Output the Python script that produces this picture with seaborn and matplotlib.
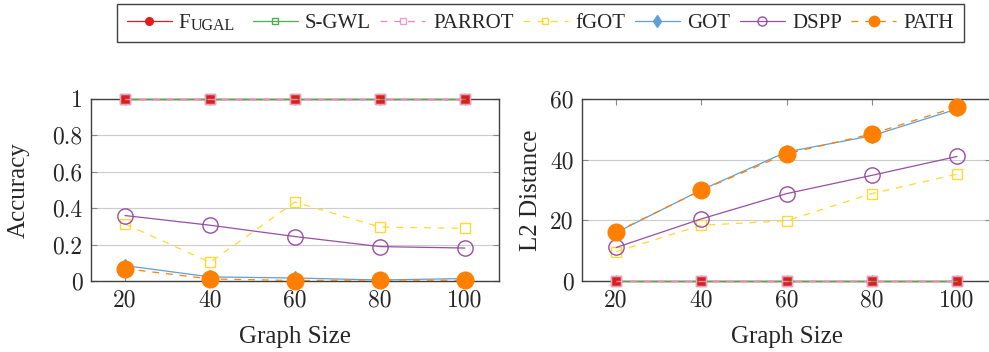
import numpy as np
import pandas as pd
import matplotlib
matplotlib.use("Agg")
import matplotlib.pyplot as plt
from matplotlib.lines import Line2D
import seaborn as sns

# data
sizes = [20, 40, 60, 80, 100]
methods = ["Fugal", "S-GWL", "PARROT", "fGOT", "GOT", "DSPP", "PATH"]

acc_fugal = [1.0, 1.0, 1.0, 1.0, 1.0]
acc_sgwl = [1.0, 1.0, 1.0, 1.0, 1.0]
acc_parrot = [1.0, 1.0, 1.0, 1.0, 1.0]
acc_fgot = [0.314, 0.104, 0.434, 0.297, 0.29]
acc_got = [0.086, 0.024, 0.018, 0.007, 0.015]
acc_dspp = [0.36, 0.307, 0.245, 0.19, 0.182]
acc_path = [0.069, 0.013, 0.004, 0.007, 0.005]

l2_fugal = [0, 0, 0, 0, 0]
l2_sgwl = [0, 0, 0, 0, 0]
l2_parrot = [0, 0, 0, 0, 0]
l2_fgot = [9.7, 18.4, 19.9, 28.8, 35.2]
l2_got = [16.0, 30.0, 42.5, 47.8, 56.6]
l2_dspp = [11.1, 20.5, 28.8, 34.8, 41.0]
l2_path = [16.2, 29.9, 41.9, 48.4, 57.3]

acc = [acc_fugal, acc_sgwl, acc_parrot, acc_fgot, acc_got, acc_dspp, acc_path]
l2 = [l2_fugal, l2_sgwl, l2_parrot, l2_fgot, l2_got, l2_dspp, l2_path]

dash = (0, (5.5, 5.5))
# styles (pgfplots-like)
styles = {
    "Fugal": dict(color="#e41a1c", ls="-", marker="s", ms=5.5, mfc="#e41a1c", mec="#e41a1c"),
    "S-GWL": dict(color="#4daf4a", ls="-", marker="s", ms=7, mfc="none", mec="#4daf4a"),
    "PARROT": dict(color="#f781bf", ls=dash, marker="s", ms=7, mfc="none", mec="#f29bc8"),
    "fGOT": dict(color="#ffd92f", ls=dash, marker="s", ms=7, mfc="none", mec="#ffd92f"),
    "GOT": dict(color="#5f9fd6", ls="-", marker="d", ms=7, mfc="#5f9fd6", mec="#5f9fd6"),
    "DSPP": dict(color="#984ea3", ls="-", marker="o", ms=11, mfc="none", mec="#984ea3"),
    "PATH": dict(color="#ff7f00", ls=dash, marker="o", ms=12, mfc="#ff7f00", mec="#ff7f00"),
}
legend_markers = {"Fugal": "o", "S-GWL": "s", "PARROT": "s", "fGOT": "s",
                  "GOT": "d", "DSPP": "o", "PATH": "o"}
legend_ms = {"Fugal": 5.5, "S-GWL": 5, "PARROT": 5, "fGOT": 5, "GOT": 6, "DSPP": 6.5, "PATH": 7.5}

sns.set_style("ticks")
plt.rcParams["font.family"] = ["Liberation Serif", "DejaVu Serif"]

fig = plt.figure(figsize=(9.89, 3.52), dpi=100)
ax1 = fig.add_axes([0.0920, 0.2009, 0.4125, 0.5188])
ax2 = fig.add_axes([0.5885, 0.2009, 0.4136, 0.5188])

for ax, data in [(ax1, acc), (ax2, l2)]:
    for name, vals in zip(methods, data):
        s = styles[name]
        df = pd.DataFrame({"size": sizes, "val": vals})
        sns.lineplot(data=df, x="size", y="val", ax=ax, errorbar=None,
                     color=s["color"], linestyle=s["ls"], linewidth=0.9,
                     marker=s["marker"], markersize=s["ms"],
                     markerfacecolor=s["mfc"], markeredgecolor=s["mec"],
                     markeredgewidth=1.0, clip_on=False, zorder=3)

tick_font = dict(family="cmr10", size=17)
for ax in (ax1, ax2):
    ax.set_xlim(12, 108)
    ax.set_xticks(sizes)
    ax.set_xticklabels([str(s) for s in sizes], fontdict=tick_font)
    ax.grid(axis="y", color="#cccccc", linewidth=0.8)
    ax.set_axisbelow(True)
    ax.tick_params(direction="in", top=True, right=True, length=4, width=0.8,
                   color="#888888", pad=6)
    for sp in ax.spines.values():
        sp.set_color("#404040")
        sp.set_linewidth(1.0)
    ax.set_xlabel("Graph Size", fontsize=18)
    ax.xaxis.set_label_coords(0.5, -0.245)

ax1.set_ylim(0, 1)
ax1.set_yticks([0, 0.2, 0.4, 0.6, 0.8, 1.0])
ax1.set_yticklabels(["0", "0.2", "0.4", "0.6", "0.8", "1"], fontdict=tick_font)
ax1.set_ylabel("Accuracy", fontsize=18)
ax1.yaxis.set_label_coords(-0.149, 0.5)

ax2.set_ylim(0, 60)
ax2.set_yticks([0, 20, 40, 60])
ax2.set_yticklabels(["0", "20", "40", "60"], fontdict=tick_font)
ax2.set_ylabel("L2 Distance", fontsize=18)
ax2.yaxis.set_label_coords(-0.097, 0.5)

# legend with custom handles
handles = []
for name in methods:
    s = styles[name]
    handles.append(Line2D([], [], color=s["color"], linestyle=s["ls"], linewidth=0.9,
                          marker=legend_markers[name], markersize=legend_ms[name],
                          markerfacecolor=s["mfc"], markeredgecolor=s["mec"],
                          markeredgewidth=1.0))
labels = ["F" + "\u2003\u2003\u2002"] + methods[1:]
leg = fig.legend(handles, labels, loc="center", bbox_to_anchor=(0.5465, 0.934),
                 ncol=7, fontsize=15, frameon=True, fancybox=False, framealpha=1,
                 handlelength=2.16, handletextpad=0.36, columnspacing=0.45,
                 borderpad=0.45)
leg.get_frame().set_edgecolor("#404040")
leg.get_frame().set_linewidth(1.0)

# small caps for Fugal
fig.canvas.draw()
renderer = fig.canvas.get_renderer()
ftxt = leg.get_texts()[0]
tmp = fig.text(0, 0, "F", fontsize=15)
fw = tmp.get_window_extent(renderer).width
tmp.remove()
bb = ftxt.get_window_extent(renderer)
fig.text((bb.x0 + fw) / fig.bbox.width, (bb.y0 + bb.y1) / 2 / fig.bbox.height,
         "UGAL", fontsize=11.5, ha="left", va="center_baseline", zorder=10)

fig.savefig("out.png", dpi=100)
